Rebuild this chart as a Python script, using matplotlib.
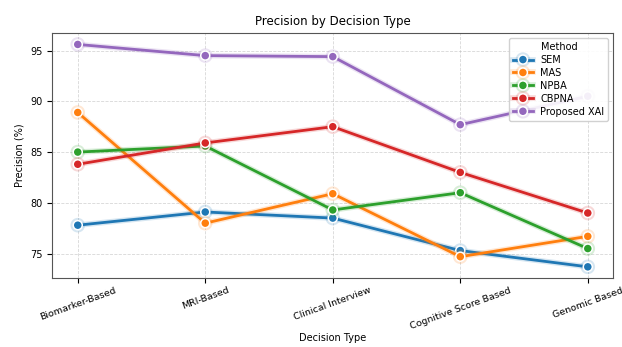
"""Precision by decision type, line chart per method."""

import matplotlib
matplotlib.use("Agg")
import matplotlib.pyplot as plt
import matplotlib.patheffects as pe
import numpy as np

DECISION_TYPES = ["Biomarker-Based", "MRI-Based", "Clinical Interview",
                  "Cognitive Score Based", "Genomic Based"]

SEM = [77.8, 79.1, 78.5, 75.3, 73.7]
MAS = [88.9, 78.0, 80.9, 74.7, 76.7]
NPBA = [85.0, 85.6, 79.3, 81.0, 75.5]
CBPNA = [83.8, 85.9, 87.5, 83.0, 79.0]
PROPOSED_XAI = [95.6, 94.5, 94.4, 87.7, 90.5]

METHODS = ["SEM", "MAS", "NPBA", "CBPNA", "Proposed XAI"]
SERIES = [SEM, MAS, NPBA, CBPNA, PROPOSED_XAI]
COLORS = ["#1f77b4", "#ff7f0e", "#2ca02c", "#d62728", "#9467bd"]


def main():
    fig = plt.figure(figsize=(6.22, 3.47), dpi=100)
    ax = fig.add_axes([0.084, 0.199, 0.902, 0.705])

    x = np.arange(len(DECISION_TYPES))
    for name, vals, color in zip(METHODS, SERIES, COLORS):
        ax.plot(x, vals, color=color, linewidth=2.0, marker="o", markersize=6.5,
                markeredgecolor="white", markeredgewidth=1.1, label=name,
                path_effects=[pe.Stroke(linewidth=4.0, foreground=color, alpha=0.18),
                              pe.Normal()])

    ax.set_xticks(x)
    ax.set_xticklabels(DECISION_TYPES, rotation=20, ha="center", fontsize=6.8)
    ax.tick_params(axis="y", labelsize=7)
    ax.tick_params(axis="x", pad=2)
    ax.set_xlabel("Decision Type", fontsize=7, labelpad=2)
    ax.set_ylabel("Precision (%)", fontsize=7)
    ax.set_title("Precision by Decision Type", fontsize=8.5, pad=6)
    ax.grid(True, linestyle="--", alpha=0.5, linewidth=0.6)
    for s in ax.spines.values():
        s.set_color("#555555")

    ax.legend(title="Method", loc="upper right", fontsize=7, title_fontsize=7,
              framealpha=0.9, borderpad=0.4, labelspacing=0.3, handlelength=2.0)

    fig.savefig("out.png", dpi=100)
    plt.close(fig)


if __name__ == "__main__":
    main()
